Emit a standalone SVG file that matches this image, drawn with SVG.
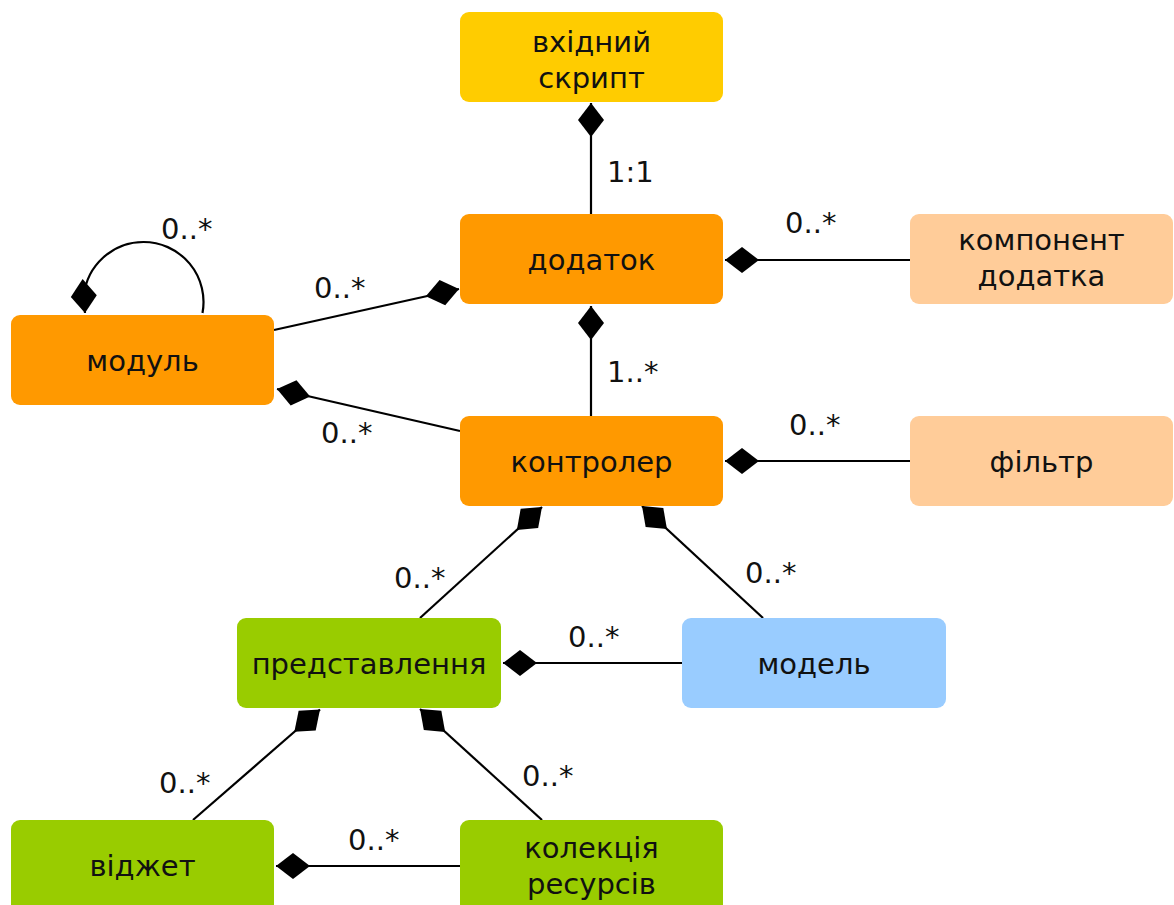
<svg xmlns="http://www.w3.org/2000/svg" width="1174" height="905" viewBox="0 0 1174 905">
<style>
.box{stroke:none}
.t{font-family:"DejaVu Sans","Noto Sans",sans-serif;font-size:29px;fill:#111;text-anchor:middle}
.l{font-family:"DejaVu Sans","Noto Sans",sans-serif;font-size:29px;fill:#111}
.c{fill:none;stroke:#000;stroke-width:2.2;marker-start:url(#dia)}
</style>
<defs>
<marker id="dia" markerUnits="userSpaceOnUse" orient="auto" refX="0" refY="0" markerWidth="40" markerHeight="30" overflow="visible">
<path d="M0,0 L17,-13 L34,0 L17,13 Z" fill="#000"/>
</marker>
</defs>
<rect width="1174" height="905" fill="#fff"/>
<g id="connectors">
<path class="c" d="M591,103 L591,214"/>
<path class="c" d="M725,260 L910,260"/>
<path class="c" d="M591,306 L591,416"/>
<path class="c" d="M459,289 L274,330"/>
<path class="c" d="M277,389 L460,431"/>
<path class="c" d="M85,313 L83.8,296 A60,60 0 0 1 143.5,242 A60,60 0 0 1 202.5,313"/>
<path class="c" d="M725,461 L910,461"/>
<path class="c" d="M542,507 L420,618"/>
<path class="c" d="M642,506 L763,618"/>
<path class="c" d="M503,663 L682,663"/>
<path class="c" d="M320,709.5 L193,820"/>
<path class="c" d="M420,709 L542,820"/>
<path class="c" d="M276,866 L460,866"/>
</g>
<g id="labels">
<text class="l" x="607" y="182">1:1</text>
<text class="l" x="785" y="233">0..*</text>
<text class="l" x="607" y="382">1..*</text>
<text class="l" x="161" y="239">0..*</text>
<text class="l" x="314" y="298">0..*</text>
<text class="l" x="321" y="443">0..*</text>
<text class="l" x="789" y="435">0..*</text>
<text class="l" x="394" y="588">0..*</text>
<text class="l" x="745" y="583">0..*</text>
<text class="l" x="568" y="647">0..*</text>
<text class="l" x="159" y="793">0..*</text>
<text class="l" x="522" y="786">0..*</text>
<text class="l" x="348" y="850">0..*</text>
</g>
<g id="n-vkhidnyi-skrypt">
<rect class="box" x="460" y="12" width="263" height="90" rx="9" fill="#FFCC00"/>
<text class="t" x="591.5" y="52">вхідний</text>
<text class="t" x="591.5" y="88">скрипт</text>
</g>
<g id="n-dodatok">
<rect class="box" x="460" y="214" width="263" height="90" rx="9" fill="#FF9900"/>
<text class="t" x="591.5" y="270">додаток</text>
</g>
<g id="n-komponent">
<rect class="box" x="910" y="214" width="263" height="90" rx="9" fill="#FFCC99"/>
<text class="t" x="1041.5" y="250">компонент</text>
<text class="t" x="1041.5" y="286">додатка</text>
</g>
<g id="n-modul">
<rect class="box" x="11" y="315" width="263" height="90" rx="9" fill="#FF9900"/>
<text class="t" x="142.5" y="371">модуль</text>
</g>
<g id="n-kontroler">
<rect class="box" x="460" y="416" width="263" height="90" rx="9" fill="#FF9900"/>
<text class="t" x="591.5" y="472">контролер</text>
</g>
<g id="n-filtr">
<rect class="box" x="910" y="416" width="263" height="90" rx="9" fill="#FFCC99"/>
<text class="t" x="1041.5" y="472">фільтр</text>
</g>
<g id="n-predstavlennia">
<rect class="box" x="237" y="618" width="264" height="90" rx="9" fill="#99CC00"/>
<text class="t" x="369" y="674">представлення</text>
</g>
<g id="n-model">
<rect class="box" x="682" y="618" width="264" height="90" rx="9" fill="#99CCFF"/>
<text class="t" x="814" y="674">модель</text>
</g>
<g id="n-vidzhet">
<rect class="box" x="11" y="820" width="263" height="95" rx="9" fill="#99CC00"/>
<text class="t" x="142.5" y="876">віджет</text>
</g>
<g id="n-kolektsiia">
<rect class="box" x="460" y="820" width="263" height="95" rx="9" fill="#99CC00"/>
<text class="t" x="591.5" y="858">колекція</text>
<text class="t" x="591.5" y="894">ресурсів</text>
</g>
</svg>
